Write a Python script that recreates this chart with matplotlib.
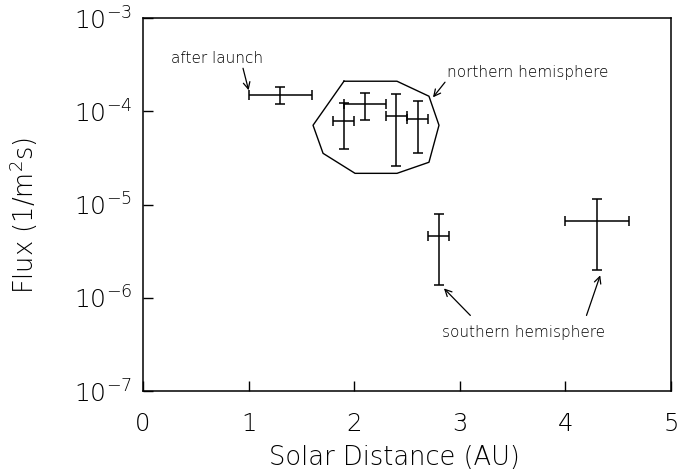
import matplotlib
matplotlib.use("Agg")
import matplotlib.pyplot as plt
import numpy as np

# measured points (Solar distance in AU, flux in 1/m^2 s)
dist = [1.3, 1.9, 2.1, 2.4, 2.6, 2.8, 4.3]
dist_err = [0.3, 0.1, 0.2, 0.1, 0.1, 0.1, 0.3]
flux = [1.5e-4, 7.8e-5, 1.19e-4, 8.8e-5, 8.2e-5, 4.6e-6, 6.6e-6]
flux_hi = [1.8e-4, 1.22e-4, 1.56e-4, 1.52e-4, 1.28e-4, 7.85e-6, 1.14e-5]
flux_lo = [1.2e-4, 3.9e-5, 8.0e-5, 2.57e-5, 3.55e-5, 1.36e-6, 1.97e-6]

# outline round the northern hemisphere points
hull_x = [1.903, 2.405, 2.708, 2.803, 2.708, 2.405, 2.008, 1.705, 1.610]
hull_y = [2.10e-4, 2.10e-4, 1.45e-4, 7.08e-5, 2.84e-5, 2.16e-5, 2.16e-5, 3.54e-5, 7.08e-5]

xticks = [0, 1, 2, 3, 4, 5]
yticks = [1e-7, 1e-6, 1e-5, 1e-4, 1e-3]
ylabels = [r'$10^{-7}$', r'$10^{-6}$', r'$10^{-5}$', r'$10^{-4}$', r'$10^{-3}$']

plt.rcParams['font.family'] = 'DejaVu Sans'
plt.rcParams['font.weight'] = 'light'
plt.rcParams['axes.labelweight'] = 'light'
plt.rcParams['mathtext.fontset'] = 'dejavusans'
plt.rcParams['text.color'] = 'black'

fig = plt.figure(figsize=(6.91, 4.74), dpi=100)
ax = fig.add_axes([0.207, 0.175, 0.764, 0.787])

flux = np.array(flux)
yerr = [flux - np.array(flux_lo), np.array(flux_hi) - flux]
ax.errorbar(dist, flux, xerr=dist_err, yerr=yerr, fmt='none', ecolor='black',
            elinewidth=1.1, capsize=3.5, capthick=1.1)

hx = hull_x + hull_x[:1]
hy = hull_y + hull_y[:1]
ax.plot(hx, hy, color='black', lw=1.0)

arrow = dict(arrowstyle='->', color='black', lw=0.9, shrinkA=0, shrinkB=0,
             mutation_scale=12)
ax.text(0.70, 3.7e-4, 'after launch', fontsize=11, ha='center', va='center')
ax.annotate('', xy=(1.0, 1.68e-4), xytext=(0.947, 2.89e-4), arrowprops=arrow)

ax.text(2.88, 2.62e-4, 'northern hemisphere', fontsize=11, ha='left', va='center')
ax.annotate('', xy=(2.746, 1.41e-4), xytext=(2.86, 2.05e-4), arrowprops=arrow)

ax.text(3.60, 4.26e-7, 'southern hemisphere', fontsize=11, ha='center', va='center')
ax.annotate('', xy=(2.85, 1.26e-6), xytext=(3.10, 6.47e-7), arrowprops=arrow)
ax.annotate('', xy=(4.33, 1.74e-6), xytext=(4.20, 6.47e-7), arrowprops=arrow)

ax.set_yscale('log')
ax.set_xlim(0, 5)
ax.set_ylim(1e-7, 1e-3)
ax.set_xticks(xticks)
ax.set_yticks(yticks)
ax.set_yticklabels(ylabels)
ax.minorticks_off()
ax.tick_params(direction='in', length=7, width=1, top=False, right=False)
ax.tick_params(axis='x', labelsize=17.5, pad=15)
ax.tick_params(axis='y', labelsize=18, pad=8)
for s in ax.spines.values():
    s.set_linewidth(1.1)

ax.set_xlabel('Solar Distance (AU)', fontsize=18.5, fontweight='light')
ax.xaxis.set_label_coords(0.477, -0.145)
ax.set_ylabel(r'Flux (1/m$^2$s)', fontsize=18.5, fontweight='light')
ax.yaxis.set_label_coords(-0.195, 0.47)

fig.savefig('out.png', dpi=100)
